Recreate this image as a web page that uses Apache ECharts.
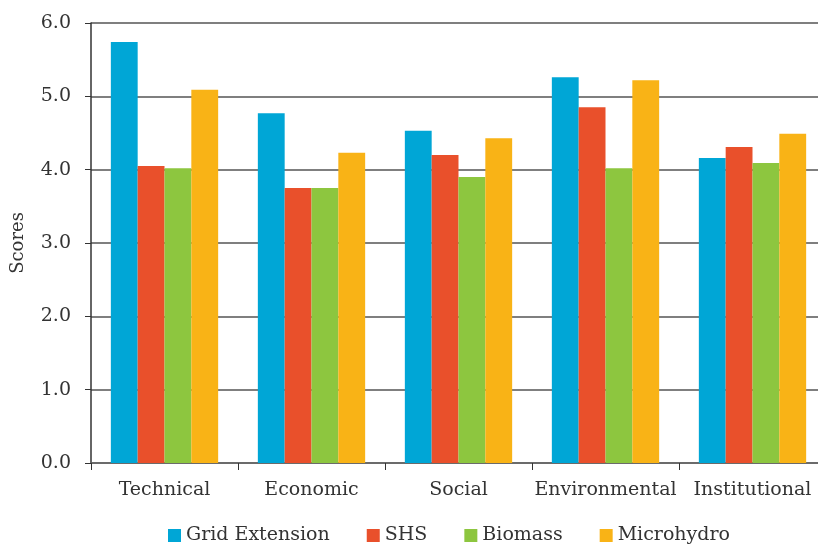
<!DOCTYPE html>
<html>
<head>
<meta charset="utf-8">
<script src="https://cdn.jsdelivr.net/npm/echarts@6/dist/echarts.min.js"></script>
<style>
  html, body { margin: 0; padding: 0; background: #fff; overflow: hidden; width: 818px; height: 545px; }
  /* the plot runs a little past the right edge of the page */
  #chart { width: 830px; height: 545px; }
</style>
</head>
<body>
<div id="chart"></div>
<script>
// Criteria scores for each electrification option
const categories = ['Technical', 'Economic', 'Social', 'Environmental', 'Institutional'];
const gridExtension = [5.74, 4.77, 4.53, 5.26, 4.16];
const shs = [4.05, 3.75, 4.20, 4.85, 4.31];
const biomass = [4.02, 3.75, 3.90, 4.02, 4.09];
const microhydro = [5.09, 4.23, 4.43, 5.22, 4.49];
const seriesNames = ['Grid Extension', 'SHS', 'Biomass', 'Microhydro'];
const seriesColors = ['#00A6D6', '#E9502B', '#8DC63F', '#F9B316'];

const FONT = 'DejaVu Serif';
const chart = echarts.init(document.getElementById('chart'));

const values = [gridExtension, shs, biomass, microhydro];
const series = values.map((data, i) => ({
  name: seriesNames[i],
  type: 'bar',
  data: data,
  barGap: '0%',
  barCategoryGap: '27%',
  itemStyle: { color: seriesColors[i] }
}));

chart.setOption({
  animation: false,
  textStyle: { fontFamily: FONT },
  grid: { left: 91, right: 4, top: 23, bottom: 82, containLabel: false },
  legend: {
    data: seriesNames,
    left: 163,
    top: 521,
    icon: 'rect',
    itemWidth: 13,
    itemHeight: 13,
    itemGap: 37,
    textStyle: { fontFamily: FONT, fontSize: 19, color: '#333' }
  },
  xAxis: {
    type: 'category',
    data: categories,
    axisLine: { lineStyle: { color: '#666', width: 1.5 } },
    axisTick: { show: true, length: 7, lineStyle: { color: '#333' } },
    axisLabel: { fontFamily: FONT, fontSize: 19, color: '#333', margin: 18, interval: 0 }
  },
  yAxis: {
    type: 'value',
    min: 0,
    max: 6,
    interval: 1,
    name: 'Scores',
    nameLocation: 'middle',
    nameGap: 64,
    nameTextStyle: { fontFamily: FONT, fontSize: 18, color: '#333' },
    axisLine: { show: true, lineStyle: { color: '#333', width: 1.5 } },
    axisTick: { show: true, length: 6, lineStyle: { color: '#333' } },
    axisLabel: {
      fontFamily: FONT, fontSize: 19, color: '#333', margin: 20,
      formatter: v => v.toFixed(1)
    },
    splitLine: { show: true, lineStyle: { color: '#555', width: 1.5 } }
  },
  series: series
});
</script>
</body>
</html>
